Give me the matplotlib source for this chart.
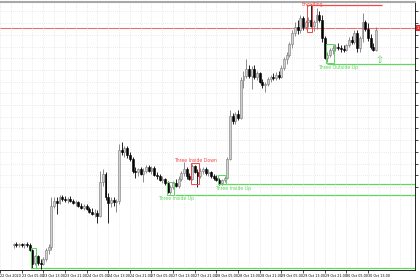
import numpy as np
import matplotlib
matplotlib.use("Agg")
import matplotlib.pyplot as plt
from matplotlib.patches import Rectangle

# ---------------- data (hourly candles, price in pips above BASE) ----------------
BASE = 1.16429
opens = [21, 22, 21, 22, 21, 22, 21, 17, 6, 12, 6, 5, 9, 17, 20, 55, 59, 57, 62, 61,
         60, 61, 59, 57, 58, 55, 53, 55, 52, 50, 48, 49, 46, 75, 82, 62, 57, 60, 58, 59,
         103, 101, 104, 98, 95, 85, 84, 86, 82, 85, 88, 85, 87, 81, 80, 77, 78, 74, 67, 71,
         74, 72, 78, 83, 86, 80, 78, 89, 84, 80, 85, 86, 83, 84, 80, 79, 77, 74, 77, 79,
         95, 132, 127, 133, 130, 162, 166, 172, 166, 172, 165, 168, 161, 158, 159, 163, 165, 164, 167, 165,
         173, 180, 184, 193, 203, 208, 205, 215, 208, 212, 214, 209, 212, 218, 214, 198, 181, 184, 188, 190,
         191, 190, 189, 188, 192, 197, 195, 203, 190, 198, 212, 206, 198, 191, 188]
highs = [23, 24, 23, 23, 23, 24, 23, 18, 13, 13, 9, 11, 19, 22, 62, 62, 62, 64, 64, 63,
         62, 63, 61, 60, 59, 57, 56, 56, 54, 53, 52, 51, 85, 86, 84, 66, 62, 62, 61, 108,
         109, 106, 106, 101, 97, 88, 87, 88, 87, 90, 90, 89, 89, 84, 82, 80, 79, 76, 73, 76,
         78, 80, 85, 92, 88, 83, 91, 90, 86, 87, 88, 88, 86, 85, 82, 81, 79, 78, 80, 97,
         137, 134, 135, 137, 165, 170, 180, 175, 174, 175, 170, 169, 163, 161, 165, 167, 168, 169, 170, 175,
         182, 186, 195, 205, 212, 214, 218, 217, 214, 216, 227, 214, 224, 221, 218, 200, 186, 190, 192, 193,
         194, 192, 192, 193, 199, 200, 205, 205, 200, 220, 214, 211, 202, 194, 208]
lows = [19, 20, 20, 20, 19, 20, 16, 2, 4, 4, 1, 4, 8, 14, 17, 53, 48, 56, 59, 58,
        57, 58, 56, 55, 54, 52, 51, 51, 49, 47, 45, 40, 45, 72, 60, 40, 54, 55, 50, 56,
        98, 97, 96, 93, 83, 79, 80, 81, 75, 83, 84, 82, 80, 78, 76, 74, 73, 66, 65, 69,
        71, 70, 76, 80, 78, 77, 77, 83, 71, 79, 82, 81, 80, 79, 77, 76, 73, 73, 75, 78,
        94, 125, 125, 128, 129, 156, 164, 164, 155, 163, 162, 160, 156, 152, 157, 161, 162, 162, 163, 164,
        171, 176, 182, 190, 200, 202, 203, 205, 206, 208, 208, 204, 206, 212, 195, 180, 178, 182, 185, 187,
        188, 186, 186, 187, 191, 193, 193, 186, 186, 195, 204, 196, 189, 187, 187]
closes = [22, 21, 22, 21, 22, 21, 17, 5, 12, 6, 5, 9, 17, 20, 55, 59, 57, 62, 61, 60,
          61, 59, 57, 58, 55, 53, 55, 52, 50, 48, 49, 46, 75, 82, 62, 57, 60, 58, 59, 103,
          101, 104, 98, 95, 85, 84, 86, 82, 85, 88, 85, 87, 81, 80, 77, 78, 74, 67, 71, 74,
          72, 78, 83, 86, 80, 78, 89, 84, 80, 85, 86, 83, 84, 80, 79, 77, 74, 77, 79, 95,
          132, 127, 133, 130, 162, 166, 172, 166, 172, 165, 168, 161, 158, 159, 163, 165, 164, 167, 165, 173,
          180, 184, 193, 203, 208, 205, 215, 208, 212, 214, 209, 212, 218, 214, 198, 181, 184, 188, 190, 191,
          190, 189, 188, 192, 197, 195, 203, 190, 198, 212, 206, 198, 191, 188, 205]

time_labels = ["22 Oct 2020", "23 Oct 05:00", "23 Oct 13:00", "23 Oct 21:00", "24 Oct 05:00",
               "24 Oct 13:00", "24 Oct 21:00", "27 Oct 05:00", "27 Oct 13:00", "27 Oct 21:00",
               "28 Oct 05:00", "28 Oct 13:00", "28 Oct 21:00", "29 Oct 05:00", "29 Oct 13:00",
               "29 Oct 21:00", "30 Oct 05:00", "30 Oct 13:00"]

# pattern boxes: (name, first bar, last bar, low pips, high pips, colour, label bar, label pips)
GREEN = "#5fd65f"
RED = "#f04848"
patterns = [
    ("", 7, 8, 1.7, 19, GREEN, None, None),
    ("Three Inside Up", 57, 59, 64, 75.5, GREEN, 60.2, 61.5),
    ("Three Inside Down", 66, 68, 73.5, 91.5, RED, 67.3, 93.5),
    ("Three Inside Up", 76, 78, 73.3, 80.8, GREEN, 81.2, 70),
    ("Engulfing", 109, 110, 203.5, 226.6, RED, 110.3, 227.0),
    ("Three Outside Up", 116, 118, 176.6, 193.5, GREEN, 119.8, 172.8),
]
support_levels = [(1.5, 6.6), (64, 59.6), (73.5, 75.6), (176.5, 116)]  # (pips, from bar)
resist_top = (226.6, 110.4, 136.2)
hline_red = 207

# ---------------- plot ----------------
o = np.array(opens); h = np.array(highs); l = np.array(lows); c = np.array(closes)
x = np.arange(len(o))
p = lambda v: BASE + np.asarray(v) / 10000.0

fig = plt.figure(figsize=(4.2, 2.8), dpi=100)
ax = fig.add_axes([0, 10 / 280, 415 / 420, 268 / 280])
ax.set_xlim(-0.36, 148.4)
ax.set_ylim(BASE, BASE + 0.02291)

up = c >= o
ax.vlines(x[up], p(l[up]), p(h[up]), color="#7a7a7a", lw=0.6, zorder=2)
ax.vlines(x[~up], p(l[~up]), p(h[~up]), color="#000000", lw=0.6, zorder=2)
body_h = np.maximum(np.abs(c - o), 0.6) / 10000.0
ax.bar(x[up], body_h[up], bottom=p(np.minimum(o, c)[up]), width=0.72,
       color="#cfcfcf", edgecolor="#7a7a7a", linewidth=0.4, zorder=3)
ax.bar(x[~up], body_h[~up], bottom=p(np.minimum(o, c)[~up]), width=0.72,
       color="#000000", edgecolor="#000000", linewidth=0.4, zorder=3)

# horizontal levels
xmax = ax.get_xlim()[1]
ax.axhline(p(hline_red), color="#ea7070", lw=0.8, zorder=1)
for lvl, start in support_levels:
    ax.hlines(p(lvl), start, xmax, color=GREEN, lw=0.9, zorder=1)
ax.hlines(p(resist_top[0]), resist_top[1], resist_top[2], color=RED, lw=0.9, zorder=4)

for name, b0, b1, lo, hi, col, lx, ly in patterns:
    ax.add_patch(Rectangle((b0 - 0.45, p(lo)), b1 - b0 + 0.9, (hi - lo) / 10000.0,
                           fill=False, edgecolor=col, lw=0.7, zorder=4))
    if name:
        ax.text(lx, p(ly), name, color=col, fontsize=3.3, ha="center", va="center",
                zorder=6, clip_on=False)

ax.text(135.3, p(179.5), "\u21e7", color=GREEN, fontsize=7, ha="center", va="center")

# grid & axes
major = np.arange(-5, 132, 8)
ax.set_xticks(np.arange(-5, 149, 4), minor=True)
ax.set_xticks(major)
ax.set_xticklabels(time_labels, fontsize=2.4, ha="left")
yt = np.arange(0.0071, 0.0229, 0.001) + BASE
ax.set_yticks(yt)
ax.set_yticklabels(["%.5f" % v for v in yt], fontsize=2.6)
ax.yaxis.tick_right()
ax.grid(True, which="both", color="#d8d8d8", linestyle=(0, (1, 2)), lw=0.5, zorder=0)
ax.tick_params(axis="x", which="major", length=2, width=0.5, pad=1)
ax.tick_params(axis="x", which="minor", length=0)
ax.tick_params(axis="y", length=2, width=0.5, pad=1)
ax.spines["left"].set_visible(False)
ax.spines["top"].set_color("#a8a8a8")
ax.spines["top"].set_linewidth(1.5)
for s in ("bottom", "right"):
    ax.spines[s].set_linewidth(0.6)

ax.text(1.003, p(hline_red), "1.18500", transform=ax.get_yaxis_transform(), fontsize=2.6,
        color="white", va="center", ha="left", clip_on=False,
        bbox=dict(boxstyle="square,pad=0.2", fc="#e03030", ec="none"))

fig.savefig("out.png", dpi=100)
